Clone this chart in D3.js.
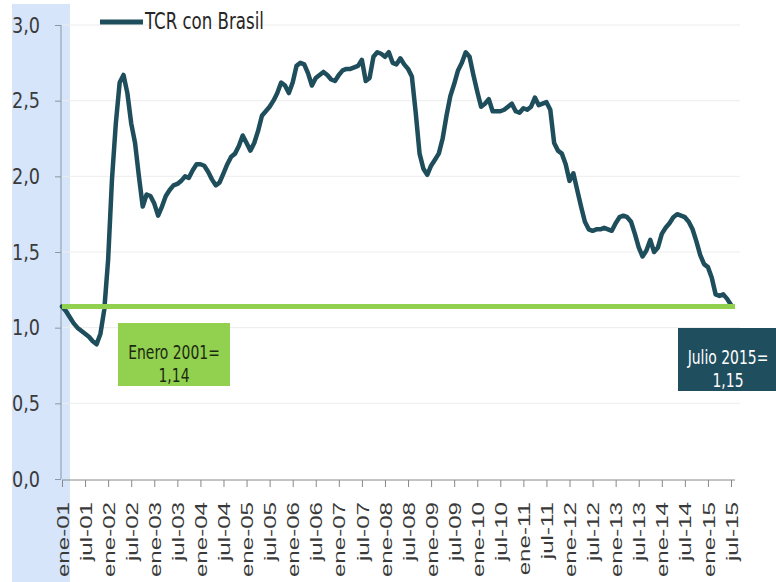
<!DOCTYPE html>
<html><head><meta charset="utf-8">
<script src="https://cdn.jsdelivr.net/npm/d3@7"></script>
<style>
html,body{margin:0;padding:0;background:#fff;}
svg{display:block;}
</style></head>
<body>
<svg id="chart" width="776" height="582"></svg>
<script>
// ---- data ----
const seriesName = "TCR con Brasil";
const v2001 = [1.14, 1.11, 1.07, 1.03, 1.00, 0.98, 0.96, 0.94, 0.91, 0.89, 0.96, 1.12];
const v2002 = [1.45, 1.98, 2.35, 2.62, 2.67, 2.55, 2.35, 2.22, 2.00, 1.80, 1.88, 1.87];
const v2003 = [1.82, 1.74, 1.80, 1.87, 1.91, 1.94, 1.95, 1.97, 2.00, 1.99, 2.04, 2.08];
const v2004 = [2.08, 2.07, 2.03, 1.98, 1.94, 1.96, 2.02, 2.08, 2.13, 2.15, 2.20, 2.27];
const v2005 = [2.22, 2.17, 2.22, 2.30, 2.40, 2.43, 2.46, 2.50, 2.55, 2.62, 2.60, 2.55];
const v2006 = [2.62, 2.73, 2.75, 2.74, 2.68, 2.60, 2.65, 2.67, 2.69, 2.67, 2.64, 2.63];
const v2007 = [2.67, 2.70, 2.71, 2.71, 2.72, 2.73, 2.77, 2.63, 2.65, 2.79, 2.82, 2.81];
const v2008 = [2.79, 2.82, 2.75, 2.74, 2.78, 2.74, 2.71, 2.66, 2.42, 2.15, 2.05, 2.01];
const v2009 = [2.07, 2.11, 2.15, 2.25, 2.40, 2.53, 2.61, 2.70, 2.75, 2.82, 2.79, 2.67];
const v2010 = [2.56, 2.46, 2.48, 2.51, 2.43, 2.43, 2.43, 2.44, 2.46, 2.48, 2.43, 2.42];
const v2011 = [2.45, 2.44, 2.46, 2.52, 2.47, 2.48, 2.49, 2.44, 2.22, 2.17, 2.15, 2.08];
const v2012 = [1.97, 2.02, 1.91, 1.80, 1.70, 1.65, 1.64, 1.65, 1.65, 1.66, 1.65, 1.64];
const v2013 = [1.69, 1.73, 1.74, 1.73, 1.70, 1.62, 1.53, 1.47, 1.51, 1.58, 1.50, 1.53];
const v2014 = [1.62, 1.66, 1.69, 1.73, 1.75, 1.74, 1.73, 1.70, 1.65, 1.57, 1.48, 1.42];
const v2015 = [1.40, 1.33, 1.22, 1.21, 1.22, 1.19, 1.15];
const tickLabels = ["ene-01","jul-01","ene-02","jul-02","ene-03","jul-03","ene-04","jul-04",
  "ene-05","jul-05","ene-06","jul-06","ene-07","jul-07","ene-08","jul-08","ene-09","jul-09",
  "ene-10","jul-10","ene-11","jul-11","ene-12","jul-12","ene-13","jul-13","ene-14","jul-14",
  "ene-15","jul-15"];
const yTicks = [0, 0.5, 1.0, 1.5, 2.0, 2.5, 3.0];
const baseValue = 1.14;   // Enero 2001
const lastValue = 1.15;   // Julio 2015
const boxLeftLines = ["Enero 2001=", "1,14"];
const boxRightLines = ["Julio 2015=", "1,15"];

const values = [].concat(v2001, v2002, v2003, v2004, v2005, v2006, v2007, v2008,
  v2009, v2010, v2011, v2012, v2013, v2014, v2015);

// ---- layout ----
const svg = d3.select("#chart");
const NARROW = "'DejaVu Sans Condensed', 'Liberation Sans Narrow', sans-serif";
const lineColor = "#1e4d5b";
const green = "#92d050";

const x = d3.scaleLinear().domain([0, values.length - 1]).range([62, 731]);
const y = d3.scaleLinear().domain([0, 3]).range([479, 25]);

// blue highlight band
svg.append("rect").attr("x", 12).attr("y", 4).attr("width", 58).attr("height", 578)
  .attr("fill", "#d6e5fa");

// gridlines
svg.append("g").selectAll("line").data(yTicks.slice(1)).join("line")
  .attr("x1", 62).attr("x2", 740)
  .attr("y1", d => y(d)).attr("y2", d => y(d))
  .attr("stroke", "#ededed").attr("stroke-width", 1);

// y axis
const yAxis = svg.append("g").attr("transform", "translate(61,0)")
  .call(d3.axisLeft(y).tickValues(yTicks).tickSize(6).tickPadding(0)
    .tickFormat(d => d3.format(".1f")(d).replace(".", ",")));
yAxis.select(".domain").attr("stroke", "#8a97a8").attr("d", `M0,${y(3)}V${y(0)}`);
yAxis.selectAll(".tick line").attr("stroke", "#8a97a8");
yAxis.selectAll(".tick text")
  .attr("font-family", NARROW).attr("font-size", 20).attr("fill", "#3a3a3a")
  .attr("text-anchor", "start").attr("x", 0).attr("dy", null)
  .attr("transform", "translate(-49,7) scale(0.98,1.08)");

// x axis
const tickIdx = tickLabels.map((t, i) => i * 6);
const xAxis = svg.append("g").attr("transform", `translate(0,${y(0) + 1})`)
  .call(d3.axisBottom(x).tickValues(tickIdx).tickSize(7)
    .tickFormat((d, i) => tickLabels[i]));
xAxis.select(".domain").attr("stroke", "#888").attr("d", `M${x(0)},0H735`);
xAxis.selectAll(".tick line").attr("stroke", "#888");
xAxis.selectAll(".tick text")
  .attr("font-family", "'Liberation Sans', Arial, sans-serif").attr("font-size", 17)
  .attr("fill", "#3a3a3a").attr("text-anchor", "end")
  .attr("x", 0).attr("y", 0).attr("dy", "0.36em")
  .attr("transform", "translate(0,22) rotate(-90) scale(1.42,1)");

// series line
svg.append("path").datum(values)
  .attr("fill", "none").attr("stroke", lineColor).attr("stroke-width", 4.5)
  .attr("stroke-linejoin", "round").attr("stroke-linecap", "round")
  .attr("d", d3.line().x((d, i) => x(i)).y(d => y(d)));

// reference line at January 2001 value
svg.append("line")
  .attr("x1", x(0)).attr("x2", 735)
  .attr("y1", y(baseValue)).attr("y2", y(baseValue))
  .attr("stroke", green).attr("stroke-width", 5);

// legend
svg.append("line").attr("x1", 100).attr("x2", 143).attr("y1", 22).attr("y2", 22)
  .attr("stroke", lineColor).attr("stroke-width", 5);
svg.append("text").attr("font-family", NARROW).attr("font-size", 21)
  .attr("fill", "#262626")
  .attr("transform", "translate(145,29) scale(0.88,1.1)")
  .text(seriesName);

// left annotation box
const bl = svg.append("g");
bl.append("rect").attr("x", 118).attr("y", 323).attr("width", 112).attr("height", 63)
  .attr("fill", green);
bl.selectAll("text").data(boxLeftLines).join("text")
  .attr("font-family", NARROW).attr("font-size", 18).attr("fill", "#1c2a10")
  .attr("text-anchor", "middle")
  .attr("transform", (d, i) => `translate(174,${359 + i * 23}) scale(0.86,1.1)`)
  .text(d => d);

// right annotation box
const br = svg.append("g");
br.append("rect").attr("x", 678).attr("y", 328).attr("width", 98).attr("height", 63)
  .attr("fill", "#1f4e5e");
br.selectAll("text").data(boxRightLines).join("text")
  .attr("font-family", NARROW).attr("font-size", 18).attr("fill", "#ffffff")
  .attr("text-anchor", "middle")
  .attr("transform", (d, i) => `translate(728,${364 + i * 23}) scale(0.86,1.1)`)
  .text(d => d);
</script>
</body></html>
